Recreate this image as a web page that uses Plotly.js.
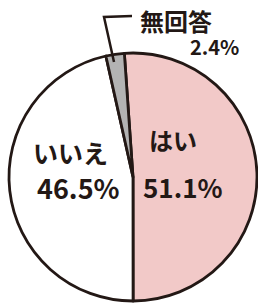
<!DOCTYPE html>
<html>
<head>
<meta charset="utf-8">
<script src="https://cdn.plot.ly/plotly-3.0.1.min.js"></script>
<style>
html,body{margin:0;padding:0;background:#fff;}
#chart{width:258px;height:304px;}
</style>
</head>
<body>
<div id="chart"></div>
<script>
const categories = ["はい", "いいえ", "無回答"];
const values = [51.1, 46.5, 2.4];
const valueLabels = ["51.1%", "46.5%", "2.4%"];
const colors = ["#f2c9c8", "#ffffff", "#b3b3b3"];

const W = 258, H = 304;
const px = x => x / W;
const py = y => 1 - y / H;
const font = {family: "Noto Sans CJK JP", color: "#231815", weight: 700};

const trace = {
  type: "pie",
  labels: categories,
  values: values,
  sort: false,
  direction: "clockwise",
  rotation: -4,
  textinfo: "none",
  hoverinfo: "label+percent",
  marker: {colors: colors, line: {color: "#231815", width: 2.8}},
  domain: {x: [px(9), px(257)], y: [py(301), py(53)]},
  showlegend: false
};

const ann = (text, x, y, size, ya) => ({
  text: text, xref: "paper", yref: "paper", x: px(x), y: py(y),
  xanchor: "center", yanchor: ya || "middle", showarrow: false,
  font: Object.assign({size: size}, font)
});

const layout = {
  width: W, height: H,
  margin: {l: 0, r: 0, t: 0, b: 0},
  paper_bgcolor: "#ffffff",
  plot_bgcolor: "#ffffff",
  showlegend: false,
  annotations: [
    ann(categories[0], 173, 139, 24),
    ann(valueLabels[0], 183, 186, 26),
    ann(categories[1], 70, 152, 25),
    ann(valueLabels[1], 78, 187, 27),
    ann(categories[2], 176, 0.5, 24, "top"),
    ann(valueLabels[2], 214, 47, 20)
  ],
  shapes: [
    {type: "path", xref: "paper", yref: "paper",
     path: `M ${px(114)} ${py(62)} L ${px(104)} ${py(17)} L ${px(132)} ${py(16)}`,
     line: {color: "#231815", width: 2.5}}
  ]
};

Plotly.newPlot("chart", [trace], layout, {displayModeBar: false, staticPlot: true});
</script>
</body>
</html>
